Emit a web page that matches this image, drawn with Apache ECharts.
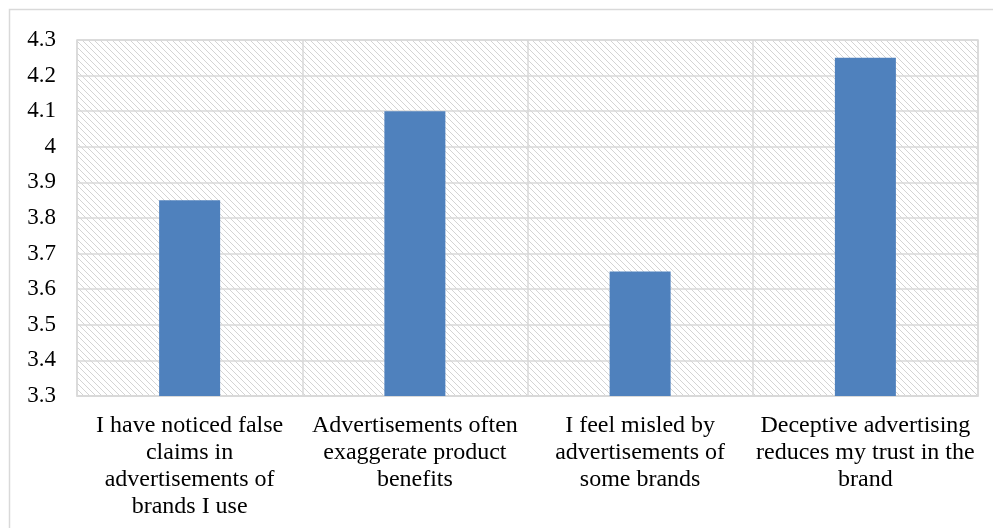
<!DOCTYPE html>
<html>
<head>
<meta charset="utf-8">
<script src="https://cdn.jsdelivr.net/npm/echarts@6/dist/echarts.min.js"></script>
<style>
html,body{margin:0;padding:0;background:#fff;}
#chart{width:993px;height:528px;}
</style>
</head>
<body>
<div id="chart"></div>
<script>
var categories = [
  "I have noticed false\nclaims in\nadvertisements of\nbrands I use",
  "Advertisements often\nexaggerate product\nbenefits",
  "I feel misled by\nadvertisements of\nsome brands",
  "Deceptive advertising\nreduces my trust in the\nbrand"
];
var values = [3.85, 4.1, 3.65, 4.25];
var yTicks = { min: 3.3, max: 4.3, interval: 0.1 };

function makeHatch() {
  var c = document.createElement('canvas');
  c.width = 6; c.height = 6;
  var ctx = c.getContext('2d');
  ctx.fillStyle = '#ffffff';
  ctx.fillRect(0, 0, 6, 6);
  ctx.strokeStyle = '#d4d4d4';
  ctx.lineWidth = 1;
  ctx.beginPath();
  ctx.moveTo(-1, -1); ctx.lineTo(7, 7);
  ctx.moveTo(-7, -1); ctx.lineTo(1, 7);
  ctx.moveTo(5, -1); ctx.lineTo(13, 7);
  ctx.stroke();
  return c;
}

var chart = echarts.init(document.getElementById('chart'), null, { renderer: 'canvas' });
var font = '"Liberation Serif", "Times New Roman", serif';
chart.setOption({
  animation: false,
  textStyle: { fontFamily: font },
  graphic: [{
    type: 'rect',
    shape: { x: 9.5, y: 9.5, width: 1000, height: 600 },
    style: { fill: 'none', stroke: '#d9d9d9', lineWidth: 1.5 },
    silent: true, z: -10
  }],
  grid: {
    left: 77, right: 15, top: 40, bottom: 132,
    show: true,
    backgroundColor: { image: makeHatch(), repeat: 'repeat' },
    borderColor: '#d9d9d9', borderWidth: 1.5
  },
  xAxis: {
    type: 'category',
    data: categories,
    axisTick: { show: false },
    axisLine: { lineStyle: { color: '#d9d9d9', width: 1.5 } },
    splitLine: { show: true, lineStyle: { color: '#d9d9d9', width: 1.5 } },
    axisLabel: {
      interval: 0, color: '#000', fontSize: 24, fontFamily: font,
      lineHeight: 27, margin: 16, align: 'center'
    }
  },
  yAxis: {
    type: 'value',
    min: yTicks.min, max: yTicks.max, interval: yTicks.interval,
    axisLine: { show: false },
    axisTick: { show: false },
    splitLine: { lineStyle: { color: '#d9d9d9', width: 1.5 } },
    axisLabel: {
      color: '#000', fontSize: 23, fontFamily: font, margin: 21,
      formatter: function (v) { return String(parseFloat(v.toFixed(1))); }
    }
  },
  series: [{
    type: 'bar',
    data: values,
    barWidth: 61,
    itemStyle: { color: '#4F81BD' }
  }]
});
</script>
</body>
</html>
